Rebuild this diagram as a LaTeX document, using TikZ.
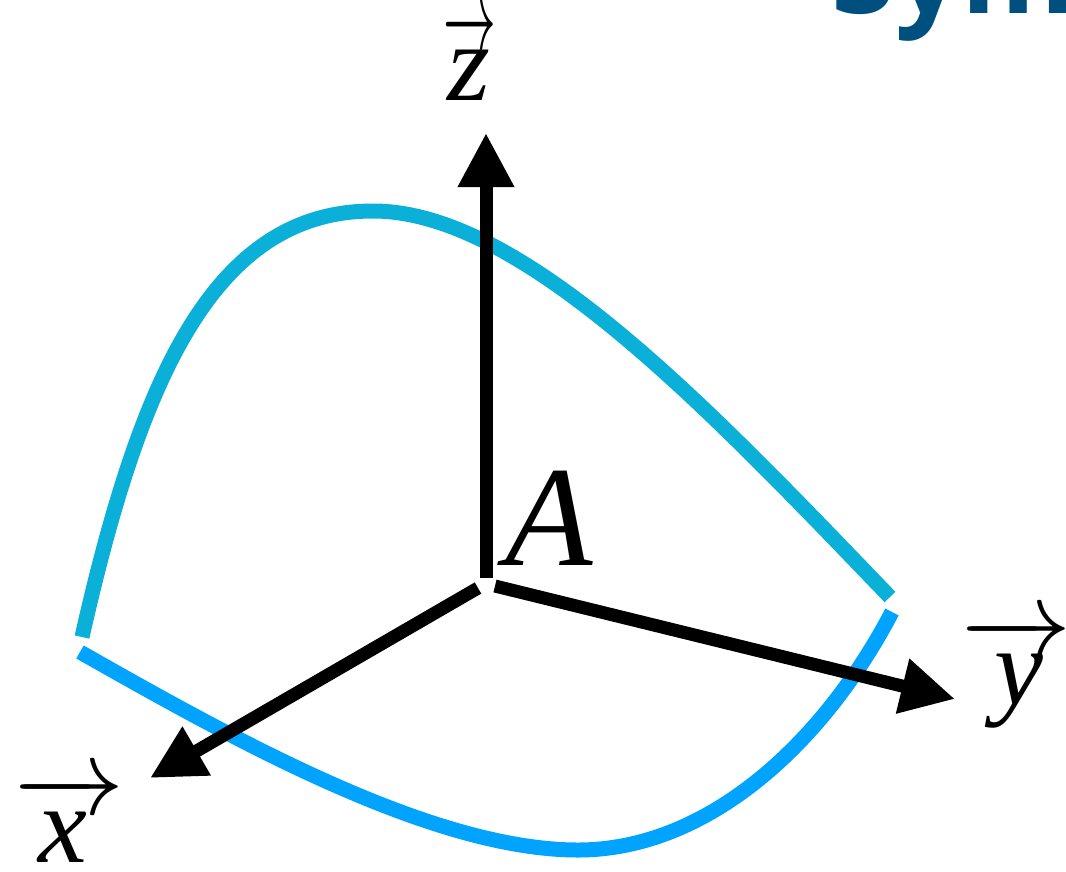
\documentclass[tikz,border=0pt]{standalone}
\usepackage[no-math]{fontspec}
\usepackage{graphicx}
\setmainfont{Liberation Serif}
\newfontfamily\titlefont{Open Sans}
\usetikzlibrary{arrows.meta}
\definecolor{upcurve}{HTML}{0AB0D8}
\definecolor{lowcurve}{HTML}{00A4FF}
\definecolor{titleblue}{HTML}{00507F}
\tikzset{
  axis/.style={line width=13pt, black, -{Triangle[length=54pt,width=53pt]}},
  curveline/.style={line width=15pt},
  lbl/.style={inner sep=0pt, anchor=base, scale=11},
}
\begin{document}
\begin{tikzpicture}[x=1pt,y=-1pt]
\useasboundingbox (0,0) rectangle (1066,871);
\clip (0,0) rectangle (1066,871);
% title fragment
\node[anchor=base west, inner sep=0pt, scale=11.6, text=titleblue] (title) at (829,13) {\titlefont\bfseries Sym};
% coordinates
\coordinate (zs) at (486,578);
\coordinate (zt) at (486,133);
\coordinate (xs) at (478,588);
\coordinate (xt) at (150,778);
\coordinate (ys) at (495,586);
\coordinate (yt) at (955,699);
% curves
\coordinate (u0) at (82,637);
\coordinate (u1) at (373,211);
\coordinate (u2) at (890,597);
\coordinate (l0) at (80,652);
\coordinate (l1) at (578,850);
\coordinate (l2) at (892,612);
\draw[curveline, upcurve] (u0) .. controls (140,380) and (213,211) .. (u1)
  .. controls (523,211) and (710,410) .. (u2);
\draw[curveline, lowcurve] (l0) .. controls (230,737) and (430,850) .. (l1)
  .. controls (710,850) and (825,740) .. (l2);
% axes
\draw[axis] (zs) -- (zt);
\draw[axis] (xs) -- (xt);
\draw[axis] (ys) -- (yt);
% labels
\node[lbl] (zl) at (470,100) {\hbox to 4.3pt{\hss\textit{z}\hss}\kern-4.3pt\hbox to 4.5pt{\hss\raisebox{4.25pt}{\scalebox{0.48}[1.05]{$\rightarrow$}}\hss}};
\node[lbl] (xl) at (70,862) {$\overrightarrow{\hbox to 8.7pt{\hss\textit{x}\kern1.2pt\hss\vrule height 5.3pt width 0pt}}$};
\node[lbl] (yl) at (1016,704) {$\overrightarrow{\hbox to 8.7pt{\hss\kern0.6pt\textit{y}\hss\vrule height 5.3pt width 0pt}}$};
\node[inner sep=0pt, anchor=base, scale=14.3] (A) at (549,565) {\textit{A}};
\end{tikzpicture}
\end{document}
